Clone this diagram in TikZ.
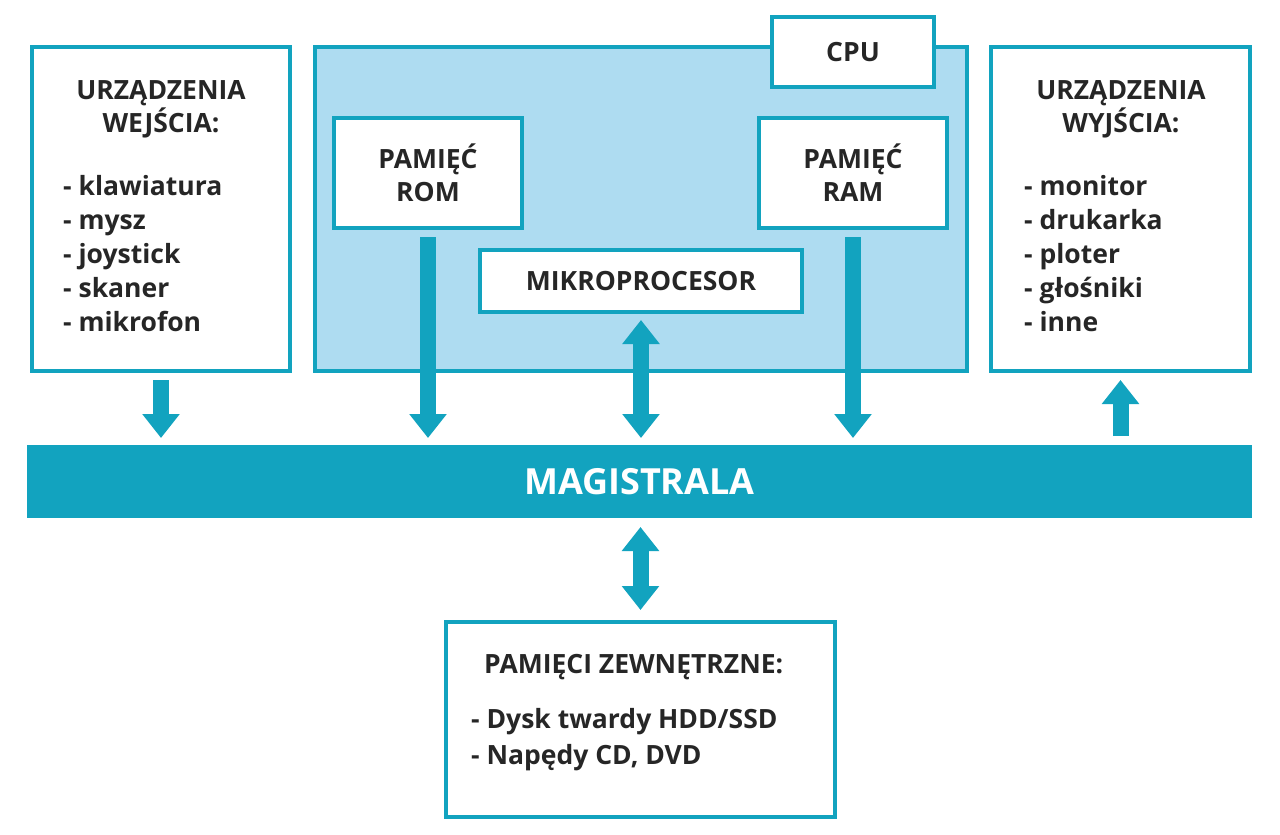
\documentclass[tikz,border=0pt]{standalone}
\usepackage{fontspec}
\setmainfont{Open Sans}
\usetikzlibrary{arrows.meta}
\definecolor{teal}{HTML}{12A3BF}
\definecolor{lb}{HTML}{AEDCF1}
\begin{document}
\begin{tikzpicture}[x=1pt,y=-1pt,
  box/.style={draw=teal,line width=4pt,fill=white,inner sep=0,outer sep=0},
  txt/.style={font=\fontsize{26.5}{33}\selectfont\bfseries,text=black!85,inner sep=0},
  arr/.style={draw=teal,line width=16pt,-{Triangle[width=36pt,length=24pt]}},
  darr/.style={draw=teal,line width=16pt,{Triangle[width=36pt,length=24pt]}-{Triangle[width=36pt,length=24pt]}}]
\useasboundingbox (0,0) rectangle (1280,835);
\node[box,minimum width=258pt,minimum height=324pt] (inp) at (161,209) {};
\node[box,fill=lb,minimum width=652pt,minimum height=324pt] (cpu) at (641,209) {};
\node[box,minimum width=162pt,minimum height=70pt,txt] (cpul) at (853,52) {CPU};
\node[box,minimum width=188pt,minimum height=110pt,txt,align=center] (rom) at (428,173) {PAMIĘĆ\\ROM};
\node[box,minimum width=188pt,minimum height=110pt,txt,align=center] (ram) at (853,173) {PAMIĘĆ\\RAM};
\node[box,minimum width=322pt,minimum height=62pt,txt] (mik) at (641,281) {MIKROPROCESOR};
\node[box,minimum width=259pt,minimum height=324pt] (out) at (1120.5,209) {};
\node[fill=teal,minimum width=1225pt,minimum height=73pt,inner sep=0,outer sep=0,font=\fontsize{36}{40}\selectfont\bfseries,text=white] (bus) at (639.5,481.5) {MAGISTRALA};
\node[box,minimum width=389pt,minimum height=195pt] (ext) at (640.5,719.5) {};
% texts
\node[txt,align=center] (t1) at (161,109) {URZĄDZENIA\\WEJŚCIA:};
\node[txt,align=left,anchor=north west,font=\fontsize{26.5}{34}\selectfont\bfseries] (l1) at (63,175) {- klawiatura\\- mysz\\- joystick\\- skaner\\- mikrofon};
\node[txt,align=center] (t2) at (1121,109) {URZĄDZENIA\\WYJŚCIA:};
\node[txt,align=left,anchor=north west,font=\fontsize{26.5}{34}\selectfont\bfseries] (l2) at (1024,175) {- monitor\\- drukarka\\- ploter\\- głośniki\\- inne};
\node[txt,anchor=west] (t3) at (484,667) {PAMIĘCI ZEWNĘTRZNE:};
\node[txt,align=left,anchor=north west,font=\fontsize{26.5}{36}\selectfont\bfseries] (l3) at (471,708) {- Dysk twardy HDD/SSD\\- Napędy CD, DVD};
% arrows
\draw[arr,shorten <=9pt,shorten >=7pt] (inp.south) -- (inp.south |- bus.north);
\draw[arr,shorten <=9pt,shorten >=7pt] (rom.south) -- (rom.south |- bus.north);
\draw[arr,shorten <=9pt,shorten >=7pt] (ram.south) -- (ram.south |- bus.north);
\draw[darr,shorten <=8pt,shorten >=7pt] (mik.south) -- (mik.south |- bus.north);
\draw[arr,shorten <=9pt,shorten >=9pt] (out.south |- bus.north) -- (out.south);
\draw[darr,shorten <=9pt,shorten >=12pt] (bus.south -| ext.north) -- (ext.north);
\end{tikzpicture}
\end{document}
